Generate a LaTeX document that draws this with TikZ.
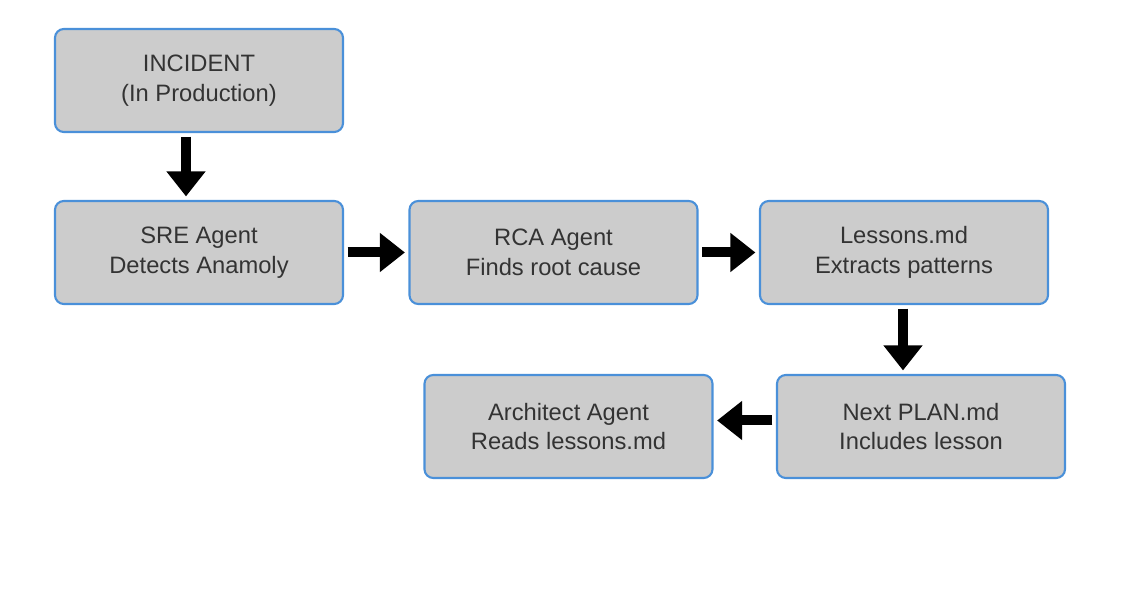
\documentclass[tikz,border=0pt]{standalone}
\usepackage{fontspec}
\setmainfont{Liberation Sans}
\usetikzlibrary{arrows.meta}
\definecolor{boxgray}{HTML}{CCCCCC}
\definecolor{boxblue}{HTML}{4A90D9}
\definecolor{txtgray}{HTML}{333333}

\begin{document}
\begin{tikzpicture}
 \tikzstyle{stage} = [draw=boxblue,fill=boxgray,line width=1.2pt,rounded corners=5pt,
                     minimum width=5.76cm,minimum height=2.06cm,align=center,
                     text=txtgray,font=\fontsize{13.5}{17}\selectfont];
 \tikzstyle{arrow} = [-{Triangle[length=0.5cm,width=0.75cm]},line width=0.2cm,black,shorten <=2pt,shorten >=2pt];

 \useasboundingbox (0,0) rectangle (22.88,-12.28);

 \node[stage,name=inc] at (3.98,-1.61)   {INCIDENT\\(In Production)};
 \node[stage,name=sre] at (3.98,-5.05)   {SRE Agent\\Detects Anamoly};
 \node[stage,name=rca] at (11.07,-5.05)  {RCA Agent\\Finds root cause};
 \node[stage,name=les] at (18.08,-5.05)  {Lessons.md\\Extracts patterns};
 \node[stage,name=plan] at (18.42,-8.53) {Next PLAN.md\\Includes lesson};
 \node[stage,name=arch] at (11.37,-8.53) {Architect Agent\\Reads lessons.md};

 \draw[arrow] ([xshift=-0.26cm]inc.south) -- ([xshift=-0.26cm]sre.north);
 \draw[arrow] (sre.east) -- (rca.west);
 \draw[arrow] (rca.east) -- (les.west);
 \draw[arrow] ([xshift=-0.02cm]les.south) -- ([xshift=-0.36cm]plan.north);
 \draw[arrow] ([yshift=0.12cm]plan.west) -- ([yshift=0.12cm]arch.east);
\end{tikzpicture}
\end{document}
